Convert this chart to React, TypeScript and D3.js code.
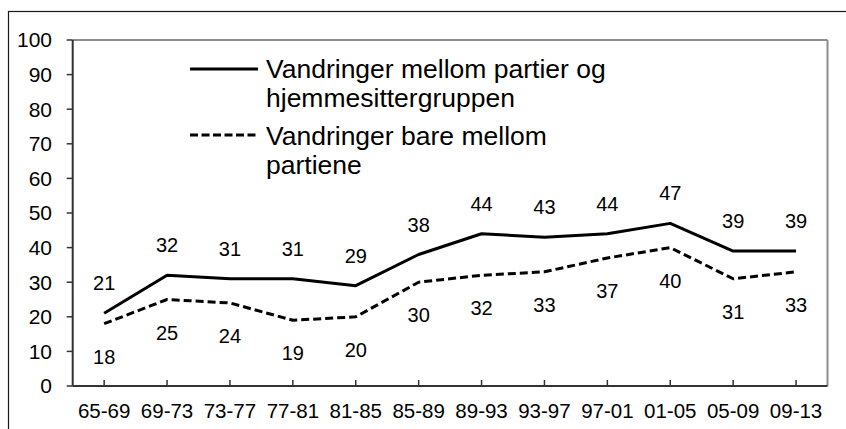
import React from "react";
import * as d3 from "d3";

const categories = ["65-69", "69-73", "73-77", "77-81", "81-85", "85-89", "89-93", "93-97", "97-01", "01-05", "05-09", "09-13"];
const seriesAll = [21, 32, 31, 31, 29, 38, 44, 43, 44, 47, 39, 39];
const seriesParties = [18, 25, 24, 19, 20, 30, 32, 33, 37, 40, 31, 33];
const yTicks = [0, 10, 20, 30, 40, 50, 60, 70, 80, 90, 100];
const legend1 = ["Vandringer mellom partier og", "hjemmesittergruppen"];
const legend2 = ["Vandringer bare mellom", "partiene"];

const W = 846;
const H = 429;
const plot = { left: 72.7, right: 827.5, top: 40, bottom: 386 };
const FONT = "'Liberation Sans', Arial, Helvetica, sans-serif";

export default function App() {
  const x = d3.scalePoint<string>().domain(categories).range([plot.left, plot.right]).padding(0.5);
  const y = d3.scaleLinear().domain([0, 100]).range([plot.bottom, plot.top]);

  const line = d3
    .line<number>()
    .x((_, i) => x(categories[i]) as number)
    .y((d) => y(d))
    .curve(d3.curveLinear);

  return (
    <svg
      width={W}
      height={H}
      style={{ position: "absolute", left: 0, top: 0, background: "#fff" }}
      fontFamily={FONT}
    >
      {/* outer frame */}
      <rect x={8.5} y={11.5} width={W} height={H} fill="none" stroke="#1a1a1a" strokeWidth={1.2} />

      {/* plot area border (top/right gray) */}
      <line x1={plot.left} x2={plot.right} y1={plot.top} y2={plot.top} stroke="#8c8c8c" strokeWidth={2} />
      <line x1={plot.right} x2={plot.right} y1={plot.top} y2={plot.bottom} stroke="#8c8c8c" strokeWidth={2} />

      {/* y axis */}
      <line x1={plot.left} x2={plot.left} y1={plot.top} y2={plot.bottom} stroke="#333" strokeWidth={2} />
      {yTicks.map((t) => (
        <g key={"y" + t}>
          <line x1={plot.left - 6} x2={plot.left} y1={y(t)} y2={y(t)} stroke="#333" strokeWidth={1.5} />
          <text x={52} y={y(t)} dy="0.35em" textAnchor="end" fontSize={21} fill="#000">
            {t}
          </text>
        </g>
      ))}

      {/* x axis */}
      <line x1={plot.left} x2={plot.right} y1={plot.bottom} y2={plot.bottom} stroke="#333" strokeWidth={2} />
      {categories.map((c) => (
        <g key={"x" + c}>
          <line x1={x(c)} x2={x(c)} y1={plot.bottom} y2={plot.bottom - 6} stroke="#333" strokeWidth={1.5} />
          <text x={x(c)} y={418} textAnchor="middle" fontSize={20.5} fill="#000">
            {c}
          </text>
        </g>
      ))}

      {/* series */}
      <path d={line(seriesAll) || ""} fill="none" stroke="#000" strokeWidth={3} strokeLinejoin="round" />
      <path d={line(seriesParties) || ""} fill="none" stroke="#000" strokeWidth={3} strokeDasharray="8,4" strokeLinejoin="round" />

      {/* data labels */}
      {seriesAll.map((v, i) => (
        <text key={"la" + i} x={x(categories[i])} y={y(v) - 23} textAnchor="middle" fontSize={20} fill="#000">
          {v}
        </text>
      ))}
      {seriesParties.map((v, i) => (
        <text key={"lp" + i} x={x(categories[i])} y={y(v) + 40} textAnchor="middle" fontSize={20} fill="#000">
          {v}
        </text>
      ))}

      {/* legend */}
      <line x1={190} x2={258} y1={69} y2={69} stroke="#000" strokeWidth={3} />
      <text x={266} y={78} fontSize={26.5} fill="#000">
        <tspan x={266}>{legend1[0]}</tspan>
        <tspan x={266} dy={28.5}>{legend1[1]}</tspan>
      </text>
      <line x1={190} x2={258} y1={135} y2={135} stroke="#000" strokeWidth={3} strokeDasharray="8,3.5" />
      <text x={266} y={145} fontSize={26.5} fill="#000">
        <tspan x={266}>{legend2[0]}</tspan>
        <tspan x={266} dy={28.5}>{legend2[1]}</tspan>
      </text>
    </svg>
  );
}
